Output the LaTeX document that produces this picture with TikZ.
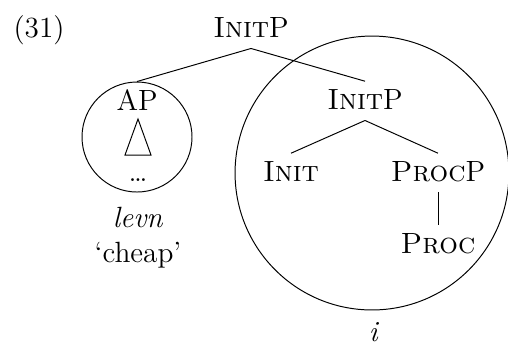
\documentclass[tikz,border=0pt]{standalone}
\usepackage{tikz}
\usetikzlibrary{positioning,
        shapes}
\usepackage{amsmath}

\begin{document}
\begin{tikzpicture}[x=0.41pt,y=-0.41pt,
        font=\fontsize{12}{14}\selectfont,
        cat/.style={anchor=base,inner sep=3pt,text depth=1.5pt},
        ring/.style={circle,draw,inner sep=0pt}]
        \useasboundingbox (0,0) rectangle (508,343);

        \node [anchor=base] (ex) at (39,37) {(31)};
        \node [ring,minimum size=45.1pt] (apring) at (137,137) {};
        \node [ring,minimum size=112.3pt] (initring) at (372,173) {};

        \node [cat] (initp) at (251,37) {\textsc{Init}P};
        \node [cat] (ap) at (137,110) {AP};
        \node [cat] (initp2) at (365,109) {\textsc{Init}P};
        \node [cat] (init) at (291,181) {\textsc{Init}};
        \node [cat] (procp) at (438,181) {\textsc{Proc}P};
        \node [cat] (proc) at (438,253) {\textsc{Proc}};

        \node [anchor=base] (dots) at (138,181) {\dots};
        \node [anchor=base] (levn) at (138,227) {\textit{levn}};
        \node [anchor=base] (cheap) at (138,262) {`cheap'};
        \node [anchor=base] (ilab) at (374,341) {\textit{i}};

        % roof under AP
        \coordinate (rooftop) at (138,119);
        \coordinate (roofl) at (125,155);
        \coordinate (roofr) at (151,155);
        \draw (rooftop) -- (roofl) -- (roofr) -- cycle;

        \draw (initp.south) -- (apring.north);
        \draw (initp.south) -- (initp2.north);
        \draw (initp2.south) -- (init.north);
        \draw (initp2.south) -- (procp.north);
        \draw (procp.south) -- (proc.north);
\end{tikzpicture}
\end{document}
